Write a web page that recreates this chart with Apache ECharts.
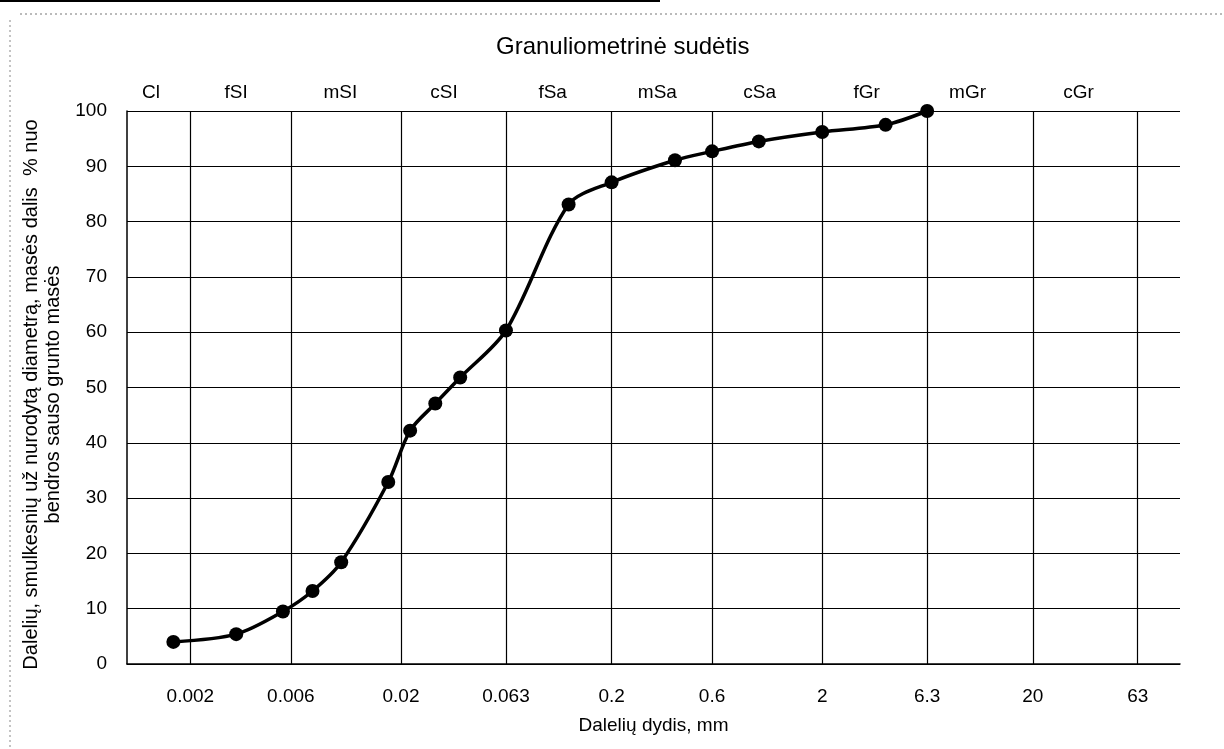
<!DOCTYPE html>
<html lang="lt">
<head>
<meta charset="UTF-8">
<title>Granuliometrinė sudėtis</title>
<script src="https://cdn.jsdelivr.net/npm/echarts@6/dist/echarts.min.js"></script>
<style>
    html, body { margin: 0; padding: 0; background: #fff; }
    #chart { width: 1224px; height: 749px; }
</style>
</head>
<body>
<div id="chart"></div>
<script type="text/javascript">
    // particle size, mm  /  % passing
    var sizes = [0.00166, 0.0033, 0.0055, 0.0076, 0.0104, 0.0174, 0.0221, 0.0291, 0.0382,
                 0.063, 0.125, 0.2, 0.4, 0.6, 1, 2, 4, 6.3];
    var passing = [4.0, 5.4, 9.5, 13.2, 18.4, 32.9, 42.2, 47.1, 51.8,
                   60.3, 83.1, 87.1, 91.1, 92.7, 94.5, 96.2, 97.5, 100];

    // boundaries on the size axis
    var sizeTicks = [0.002, 0.006, 0.02, 0.063, 0.2, 0.6, 2, 6.3, 20, 63];
    var sizeTickText = ['0.002', '0.006', '0.02', '0.063', '0.2', '0.6', '2', '6.3', '20', '63'];

    // soil fractions written above the plot
    var soilClasses = ['Cl', 'fSI', 'mSI', 'cSI', 'fSa', 'mSa', 'cSa', 'fGr', 'mGr', 'cGr'];
    var classPos = [0.0013, 0.0033, 0.0103, 0.032, 0.105, 0.33, 1.01, 3.25, 9.8, 33];

    var percentTicks = [0, 10, 20, 30, 40, 50, 60, 70, 80, 90, 100];

    function nearest(list, v) {
        var best = 0, d = Infinity;
        for (var i = 0; i < list.length; i++) {
            var dd = Math.abs(Math.log(list[i]) - Math.log(v));
            if (dd < d) { d = dd; best = i; }
        }
        return best;
    }

    var points = sizes.map(function (s, i) { return [s, passing[i]]; });
    var font = '"Liberation Sans", Arial, sans-serif';

    var chart = echarts.init(document.getElementById('chart'));
    var option = {
        animation: false,
        backgroundColor: '#fff',
        textStyle: { fontFamily: font, color: '#000' },
        title: {
            text: 'Granuliometrinė sudėtis',
            left: 491,
            top: 30,
            textStyle: { fontFamily: font, fontSize: 24, fontWeight: 'normal', color: '#000' }
        },
        grid: { left: 127, right: 44, top: 111, bottom: 85 },
        xAxis: [{
            type: 'log',
            logBase: 10,
            min: 0.001,
            max: 100,
            name: 'Dalelių dydis, mm',
            nameLocation: 'middle',
            nameGap: 52,
            nameTextStyle: { fontFamily: font, fontSize: 19, color: '#000' },
            axisLine: { show: true, onZero: false, lineStyle: { color: '#000', width: 1.5 } },
            axisTick: { show: false, customValues: sizeTicks },
            axisLabel: {
                customValues: sizeTicks,
                margin: 23,
                fontFamily: font,
                fontSize: 19,
                color: '#000',
                formatter: function (v) { return sizeTickText[nearest(sizeTicks, v)]; }
            },
            splitLine: { show: true, lineStyle: { color: '#000', width: 1.2 } },
            minorSplitLine: { show: false }
        }, {
            type: 'log',
            logBase: 10,
            min: 0.001,
            max: 100,
            position: 'top',
            axisLine: { show: false },
            axisTick: { show: false, customValues: classPos },
            axisLabel: {
                customValues: classPos,
                margin: 9,
                fontFamily: font,
                fontSize: 19,
                color: '#000',
                formatter: function (v) { return soilClasses[nearest(classPos, v)]; }
            },
            splitLine: { show: false }
        }],
        yAxis: {
            type: 'value',
            min: percentTicks[0],
            max: percentTicks[percentTicks.length - 1],
            interval: 10,
            name: 'Dalelių, smulkesnių už nurodytą diametrą, masės dalis  % nuo\nbendros sauso grunto masės',
            nameLocation: 'middle',
            nameGap: 62,
            nameTextStyle: {
                fontFamily: font, fontSize: 20, lineHeight: 22, color: '#000', align: 'center',
                padding: [0, 14, 0, 0]
            },
            axisLine: { show: true, lineStyle: { color: '#000', width: 1.5 } },
            axisTick: { show: false },
            axisLabel: { margin: 20, fontFamily: font, fontSize: 19, color: '#000' },
            splitLine: { show: true, lineStyle: { color: '#000', width: 1.2 } }
        },
        graphic: [
            { type: 'line', shape: { x1: 0, y1: 1, x2: 660, y2: 1 }, style: { stroke: '#000', lineWidth: 2 } },
            { type: 'line', shape: { x1: 20, y1: 14, x2: 1224, y2: 14 }, style: { stroke: '#777', lineWidth: 1, lineDash: [2, 3] } },
            { type: 'line', shape: { x1: 10, y1: 20, x2: 10, y2: 749 }, style: { stroke: '#888', lineWidth: 1, lineDash: [2, 3] } }
        ],
        series: [{
            type: 'line',
            xAxisIndex: 0,
            data: points,
            smooth: 0.3,
            clip: false,
            symbol: 'circle',
            symbolSize: 14,
            itemStyle: { color: '#000' },
            lineStyle: { color: '#000', width: 3.5 }
        }]
    };
    chart.setOption(option);
</script>
</body>
</html>
